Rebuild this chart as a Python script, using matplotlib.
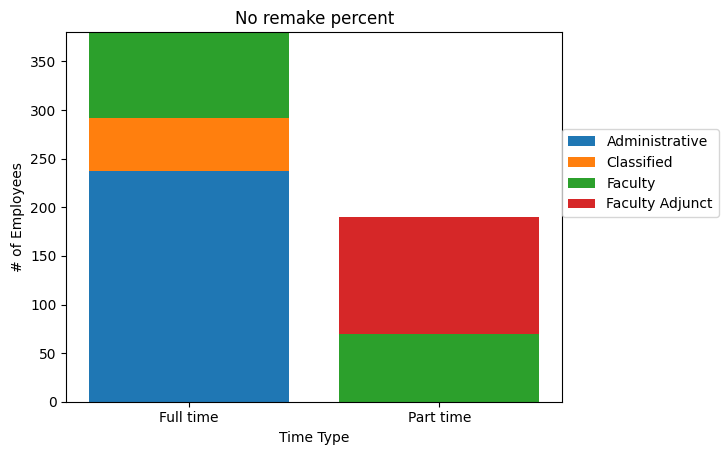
import matplotlib
matplotlib.use("Agg")
import matplotlib.pyplot as plt

time_types = ["Full time", "Part time"]
categories = ["Administrative", "Classified", "Faculty", "Faculty Adjunct"]
administrative = [237, 0]
classified = [55, 0]
faculty = [88, 70]
faculty_adjunct = [0, 120]

series = [administrative, classified, faculty, faculty_adjunct]


def main():
    fig, ax = plt.subplots(figsize=(7.28, 4.55), dpi=100)
    fig.subplots_adjust(left=0.091, right=0.772, top=0.929, bottom=0.117)

    bottom = [0, 0]
    for name, vals in zip(categories, series):
        ax.bar(time_types, vals, bottom=bottom, label=name)
        bottom = [b + v for b, v in zip(bottom, vals)]

    ax.set_ylim(0, max(bottom))
    ax.set_title("No remake percent")
    ax.set_xlabel("Time Type")
    ax.set_ylabel("# of Employees")
    ax.legend(loc="lower left", bbox_to_anchor=(1, 0.5), borderaxespad=0)

    fig.savefig("out.png", dpi=100)


if __name__ == "__main__":
    main()
